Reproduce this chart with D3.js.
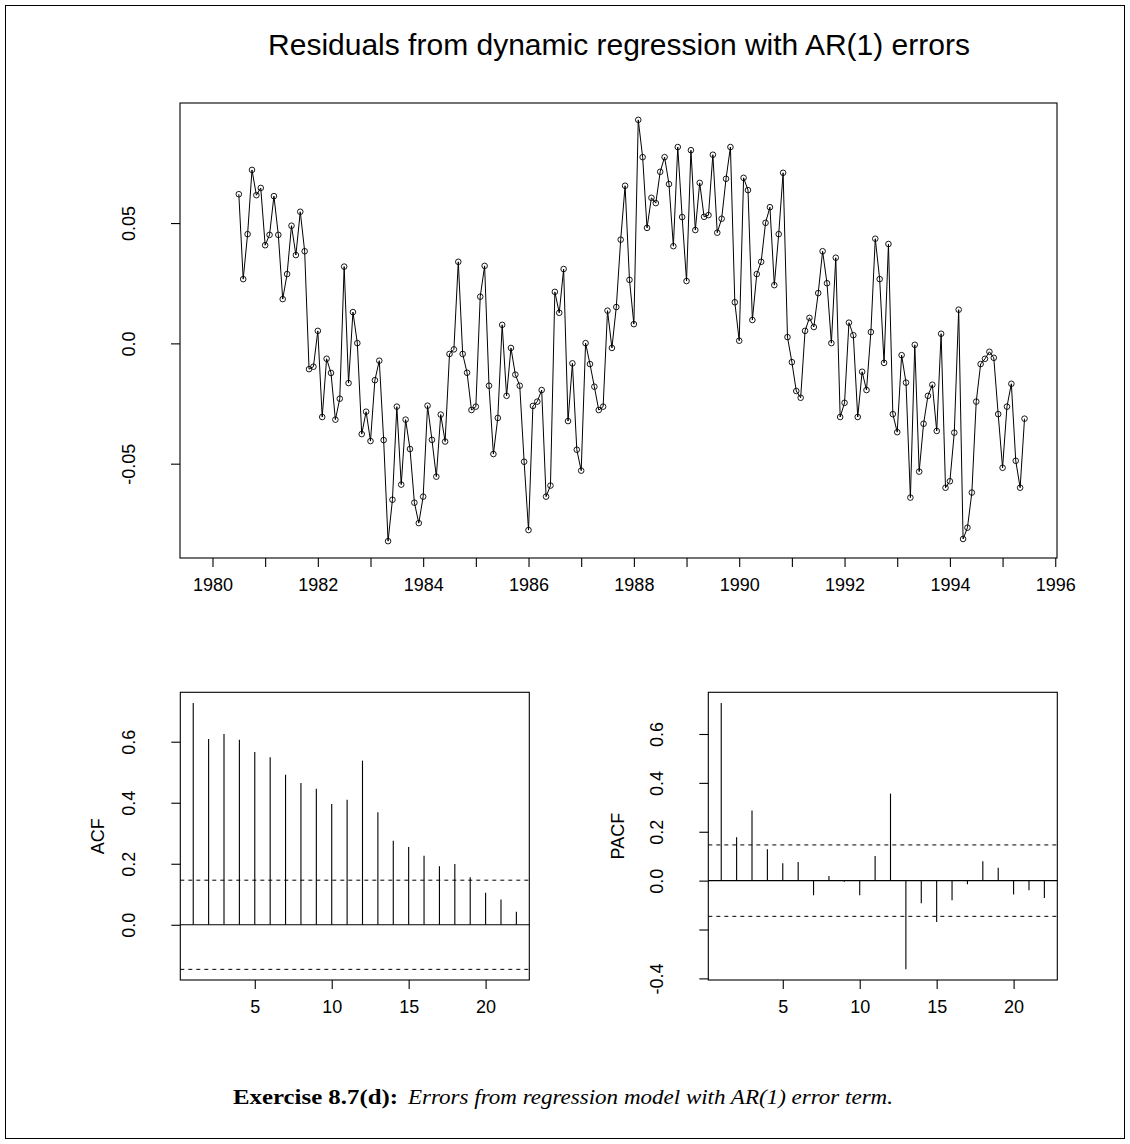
<!DOCTYPE html>
<html>
<head>
<meta charset="utf-8">
<script src="https://cdn.jsdelivr.net/npm/d3@7/dist/d3.min.js"></script>
<style>
  body { margin: 0; background: #fff; }
  svg { display: block; }
  text { font-family: "Liberation Sans", Arial, Helvetica, sans-serif; fill: #000; }
</style>
</head>
<body>
<script>
// Monthly residual series, July 1980 to June 1995
const seriesStart = 1980 + 6 / 12;
const seriesFrequency = 12;
const residuals = [
  0.0620, 0.0267, 0.0454, 0.0721, 0.0616, 0.0646, 0.0408, 0.0451, 0.0612, 0.0451, 0.0184, 0.0288,
  0.0489, 0.0367, 0.0547, 0.0383, -0.0107, -0.0097, 0.0052, -0.0306, -0.0064, -0.0123, -0.0317, -0.0230,
  0.0319, -0.0165, 0.0130, 0.0001, -0.0377, -0.0284, -0.0406, -0.0153, -0.0072, -0.0402, -0.0822, -0.0650,
  -0.0263, -0.0587, -0.0317, -0.0439, -0.0662, -0.0747, -0.0637, -0.0259, -0.0401, -0.0554, -0.0296, -0.0408,
  -0.0044, -0.0025, 0.0339, -0.0044, -0.0122, -0.0277, -0.0263, 0.0194, 0.0322, -0.0176, -0.0460, -0.0310,
  0.0077, -0.0218, -0.0019, -0.0130, -0.0176, -0.0492, -0.0776, -0.0260, -0.0242, -0.0194, -0.0637, -0.0591,
  0.0214, 0.0127, 0.0309, -0.0323, -0.0083, -0.0442, -0.0529, 0.0001, -0.0086, -0.0180, -0.0277, -0.0263,
  0.0136, -0.0019, 0.0151, 0.0431, 0.0655, 0.0264, 0.0080, 0.0929, 0.0774, 0.0480, 0.0605, 0.0583,
  0.0713, 0.0774, 0.0662, 0.0404, 0.0816, 0.0525, 0.0259, 0.0803, 0.0471, 0.0667, 0.0526, 0.0533,
  0.0784, 0.0460, 0.0518, 0.0684, 0.0816, 0.0171, 0.0011, 0.0688, 0.0637, 0.0097, 0.0288, 0.0339,
  0.0501, 0.0566, 0.0242, 0.0454, 0.0709, 0.0026, -0.0078, -0.0198, -0.0226, 0.0052, 0.0106, 0.0068,
  0.0209, 0.0383, 0.0250, 0.0001, 0.0356, -0.0306, -0.0247, 0.0086, 0.0034, -0.0306, -0.0118, -0.0194,
  0.0047, 0.0435, 0.0267, -0.0081, 0.0413, -0.0294, -0.0369, -0.0049, -0.0163, -0.0641, -0.0006, -0.0533,
  -0.0334, -0.0218, -0.0172, -0.0364, 0.0040, -0.0600, -0.0573, -0.0371, 0.0140, -0.0813, -0.0766, -0.0620,
  -0.0242, -0.0086, -0.0064, -0.0035, -0.0060, -0.0294, -0.0517, -0.0263, -0.0168, -0.0488, -0.0600, -0.0313
];
// Horizontal extent of the time axis (start of the original series to the last residual)
const timeLimits = [1980, 1995 + 5 / 12];
const yearTicks = d3.range(1980, 1997);
const yearLabels = [1980, 1982, 1984, 1986, 1988, 1990, 1992, 1994, 1996];
const residualTicks = [-0.05, 0, 0.05];
const residualTickLabels = ["-0.05", "0.0", "0.05"];

// Autocorrelations of the residuals, lags 1..22
const lags = d3.range(1, 23);
const acfValues = [0.727, 0.609, 0.625, 0.606, 0.566, 0.549, 0.492, 0.465, 0.446, 0.396, 0.410,
  0.538, 0.369, 0.275, 0.255, 0.226, 0.192, 0.199, 0.156, 0.105, 0.083, 0.043];
const pacfValues = [0.727, 0.177, 0.287, 0.128, 0.071, 0.076, -0.060, 0.019, -0.005, -0.060, 0.101,
  0.356, -0.363, -0.093, -0.169, -0.080, -0.015, 0.079, 0.053, -0.057, -0.039, -0.071];
const criticalBound = 1.96 / Math.sqrt(residuals.length);
const lagTicks = [5, 10, 15, 20];
const acfTicks = [0, 0.2, 0.4, 0.6];
const acfTickLabels = ["0.0", "0.2", "0.4", "0.6"];
const pacfTicks = [-0.4, -0.2, 0, 0.2, 0.4, 0.6];
const pacfTickLabels = ["-0.4", "", "0.0", "0.2", "0.4", "0.6"];

const titleText = "Residuals from dynamic regression with AR(1) errors";
const captionLead = "Exercise 8.7(d):";
const captionBody = "Errors from regression model with AR(1) error term.";

const W = 1130, H = 1144;
const tickFont = 18;

// R-style axis limits: data range padded by 4% on each side
function padded(lo, hi) {
  const d = (hi - lo) * 0.04;
  return [lo - d, hi + d];
}

const svg = d3.select("body").append("svg")
  .attr("width", W).attr("height", H)
  .attr("viewBox", `0 0 ${W} ${H}`);

// figure frame
svg.append("rect")
  .attr("x", 5.5).attr("y", 5.5)
  .attr("width", W - 11).attr("height", H - 11)
  .attr("fill", "none").attr("stroke", "#000").attr("stroke-width", 1);

function drawAxes(g, x, y, box, opts) {
  // plot box
  g.append("rect")
    .attr("x", box.left).attr("y", box.top)
    .attr("width", box.right - box.left).attr("height", box.bottom - box.top)
    .attr("fill", "none").attr("stroke", "#000").attr("stroke-width", 1.1);

  const xAxis = d3.axisBottom(x).tickValues(opts.xTicks).tickSize(9).tickPadding(11)
    .tickFormat(d => opts.xLabel(d));
  const gx = g.append("g").attr("transform", `translate(0,${box.bottom})`).call(xAxis);
  gx.select(".domain").remove();
  gx.selectAll(".tick line").attr("stroke", "#000").attr("stroke-width", 1.1);
  gx.selectAll(".tick text")
    .attr("font-size", tickFont).attr("font-family", "Liberation Sans, Arial, sans-serif");

  const yAxis = d3.axisLeft(y).tickValues(opts.yTicks).tickSize(9).tickFormat((d, i) => opts.yLabels[i]);
  const gy = g.append("g").attr("transform", `translate(${box.left},0)`).call(yAxis);
  gy.select(".domain").remove();
  gy.selectAll(".tick line").attr("stroke", "#000").attr("stroke-width", 1.1);
  gy.selectAll(".tick text")
    .attr("font-size", tickFont).attr("font-family", "Liberation Sans, Arial, sans-serif")
    .attr("text-anchor", "middle")
    .attr("dy", null)
    .attr("x", null)
    .attr("transform", `translate(${opts.yLabelX - box.left},0) rotate(-90)`);
}

// ---- top panel: residual time series ----
const tsBox = { left: 180, right: 1057, top: 103, bottom: 558 };
const xTime = d3.scaleLinear().domain(padded(timeLimits[0], timeLimits[1])).range([tsBox.left, tsBox.right]);
const yRes = d3.scaleLinear().domain(padded(d3.min(residuals), d3.max(residuals))).range([tsBox.bottom, tsBox.top]);

const gTs = svg.append("g");
drawAxes(gTs, xTime, yRes, tsBox, {
  xTicks: yearTicks,
  xLabel: d => (yearLabels.includes(d) ? String(d) : ""),
  yTicks: residualTicks,
  yLabels: residualTickLabels,
  yLabelX: 135
});

const resPoints = residuals.map((v, i) => ({ t: seriesStart + i / seriesFrequency, v }));
gTs.append("path")
  .datum(resPoints)
  .attr("fill", "none").attr("stroke", "#000").attr("stroke-width", 1)
  .attr("d", d3.line().x(d => xTime(d.t)).y(d => yRes(d.v)));
gTs.selectAll("circle.pt")
  .data(resPoints).enter().append("circle")
  .attr("class", "pt")
  .attr("cx", d => xTime(d.t)).attr("cy", d => yRes(d.v))
  .attr("r", 2.8)
  .attr("fill", "none").attr("stroke", "#000").attr("stroke-width", 0.9);

svg.append("text")
  .attr("x", 619).attr("y", 55)
  .attr("text-anchor", "middle")
  .attr("font-size", 30)
  .text(titleText);

// ---- correlogram panels ----
function correlogram(box, values, yTicks, yLabels, yName, yNameX, yLabelX) {
  const g = svg.append("g");
  const x = d3.scaleLinear().domain(padded(lags[0], lags[lags.length - 1])).range([box.left, box.right]);
  const lo = Math.min(d3.min(values), -criticalBound);
  const hi = Math.max(d3.max(values), criticalBound);
  const y = d3.scaleLinear().domain(padded(lo, hi)).range([box.bottom, box.top]);

  drawAxes(g, x, y, box, {
    xTicks: lagTicks,
    xLabel: d => String(d),
    yTicks: yTicks,
    yLabels: yLabels,
    yLabelX: yLabelX
  });

  // zero line
  g.append("line")
    .attr("x1", box.left).attr("x2", box.right)
    .attr("y1", y(0)).attr("y2", y(0))
    .attr("stroke", "#000").attr("stroke-width", 1.1);

  // significance bounds
  [criticalBound, -criticalBound].forEach(b => {
    g.append("line")
      .attr("x1", box.left).attr("x2", box.right)
      .attr("y1", y(b)).attr("y2", y(b))
      .attr("stroke", "#000").attr("stroke-width", 1)
      .attr("stroke-dasharray", "4,4");
  });

  // spikes
  g.selectAll("line.spike")
    .data(lags.map((l, i) => ({ l, v: values[i] })))
    .enter().append("line")
    .attr("class", "spike")
    .attr("x1", d => x(d.l)).attr("x2", d => x(d.l))
    .attr("y1", y(0)).attr("y2", d => y(d.v))
    .attr("stroke", "#000").attr("stroke-width", 1.1);

  g.append("text")
    .attr("transform", `translate(${yNameX},${(box.top + box.bottom) / 2}) rotate(-90)`)
    .attr("text-anchor", "middle")
    .attr("font-size", tickFont)
    .text(yName);
}

correlogram({ left: 180.3, right: 529.3, top: 692.3, bottom: 980 },
  acfValues, acfTicks, acfTickLabels, "ACF", 104, 135);
correlogram({ left: 708.3, right: 1057.3, top: 692.3, bottom: 980 },
  pacfValues, pacfTicks, pacfTickLabels, "PACF", 624, 663);

// ---- caption: bold lead-in followed by italic description ----
const capFont = "'Liberation Serif', 'DejaVu Serif', serif";
svg.append("text")
  .attr("x", 233).attr("y", 1104)
  .attr("font-size", 22).attr("font-weight", "bold")
  .style("font-family", capFont)
  .attr("textLength", 165).attr("lengthAdjust", "spacingAndGlyphs")
  .text(captionLead);
svg.append("text")
  .attr("x", 408).attr("y", 1104)
  .attr("font-size", 22).attr("font-style", "italic")
  .style("font-family", capFont)
  .attr("textLength", 485).attr("lengthAdjust", "spacingAndGlyphs")
  .text(captionBody);
</script>
</body>
</html>
